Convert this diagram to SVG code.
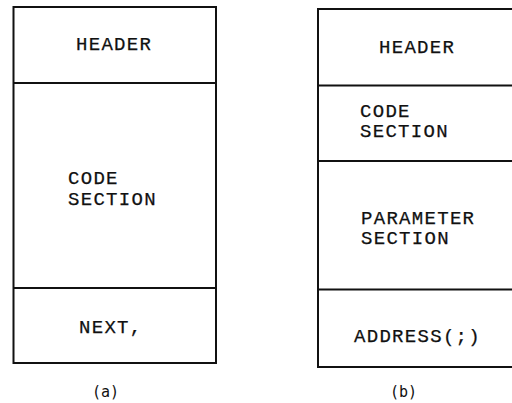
<svg xmlns="http://www.w3.org/2000/svg" width="512" height="403" viewBox="0 0 512 403">
  <style>
    .frame { fill: none; stroke: #111; stroke-width: 2; }
    .rule { stroke: #111; stroke-width: 2; }
    .lbl { font-family: "Liberation Mono", "Courier New", monospace; font-size: 19px; letter-spacing: 1.3px; fill: #111; stroke: #111; stroke-width: 0.25; }
    .cap { font-family: "DejaVu Sans Mono", "Liberation Mono", monospace; font-size: 15px; fill: #111; }
  </style>
  <rect width="512" height="403" fill="#fff"/>

  <!-- (a) word layout: header, code section, NEXT -->
  <g id="layout-a">
    <rect class="frame" x="13.5" y="7" width="202.5" height="356"/>
    <g id="a-header">
      <line class="rule" x1="13.5" y1="83" x2="216" y2="83"/>
      <text class="lbl" x="76" y="50">HEADER</text>
    </g>
    <g id="a-code">
      <line class="rule" x1="13.5" y1="288" x2="216" y2="288"/>
      <text class="lbl" x="68" y="184">CODE</text>
      <text class="lbl" x="68" y="205">SECTION</text>
    </g>
    <g id="a-next">
      <text class="lbl" x="79" y="333">NEXT,</text>
    </g>
    <text class="cap" x="105.5" y="397" text-anchor="middle">(a)</text>
  </g>

  <!-- (b) word layout: header, code, parameters, return address -->
  <g id="layout-b">
    <rect class="frame" x="318" y="9" width="200" height="358"/>
    <g id="b-header">
      <line class="rule" x1="318" y1="85.5" x2="512" y2="85.5"/>
      <text class="lbl" x="379" y="53">HEADER</text>
    </g>
    <g id="b-code">
      <line class="rule" x1="318" y1="161" x2="512" y2="161"/>
      <text class="lbl" x="360" y="117">CODE</text>
      <text class="lbl" x="360" y="137">SECTION</text>
    </g>
    <g id="b-param">
      <line class="rule" x1="318" y1="289.5" x2="512" y2="289.5"/>
      <text class="lbl" x="361" y="224">PARAMETER</text>
      <text class="lbl" x="361" y="244">SECTION</text>
    </g>
    <g id="b-address">
      <text class="lbl" x="354" y="342">ADDRESS(;)</text>
    </g>
    <text class="cap" x="403.5" y="397" text-anchor="middle">(b)</text>
  </g>
</svg>
